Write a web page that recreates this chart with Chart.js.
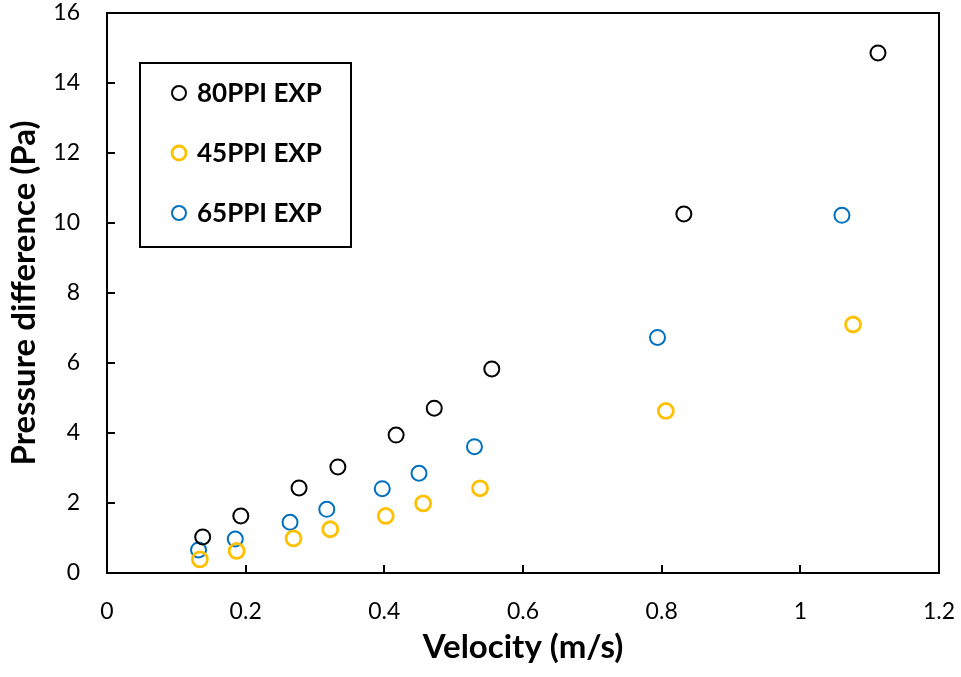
<!DOCTYPE html>
<html>
<head>
<meta charset="utf-8">
<script src="https://cdn.jsdelivr.net/npm/chart.js@4/dist/chart.umd.min.js"></script>
<style>
  html, body { margin: 0; padding: 0; background: #fff; }
  #wrap { width: 961px; height: 677px; }
</style>
</head>
<body>
<div id="wrap"><canvas id="myChart"></canvas></div>
<script>
const seriesLabels = ['80PPI EXP', '45PPI EXP', '65PPI EXP'];
const seriesColors = ['#000000', '#FFC000', '#0070C0'];

const velocity80 = [0.138, 0.193, 0.277, 0.333, 0.417, 0.472, 0.555, 0.832, 1.112];
const pressure80 = [1.03, 1.63, 2.43, 3.03, 3.94, 4.71, 5.83, 10.26, 14.86];

const velocity45 = [0.134, 0.187, 0.269, 0.322, 0.402, 0.456, 0.538, 0.806, 1.076];
const pressure45 = [0.39, 0.63, 0.99, 1.25, 1.63, 1.99, 2.42, 4.63, 7.10];

const velocity65 = [0.132, 0.185, 0.264, 0.317, 0.397, 0.450, 0.530, 0.794, 1.060];
const pressure65 = [0.66, 0.97, 1.45, 1.82, 2.41, 2.85, 3.61, 6.73, 10.22];

const xLabel = 'Velocity (m/s)';
const yLabel = 'Pressure difference (Pa)';

function toPoints(xs, ys) {
  return xs.map((x, i) => ({ x: x, y: ys[i] }));
}

const fontFamily = 'Lato, "Noto Sans", sans-serif';

// closed frame round the plot area
const framePlugin = {
  id: 'frame',
  afterDraw(chart) {
    const a = chart.chartArea;
    const c = chart.ctx;
    c.save();
    c.strokeStyle = '#000';
    c.lineWidth = 2;
    c.strokeRect(a.left, a.top, a.right - a.left, a.bottom - a.top);
    c.restore();
  }
};

// boxed legend inside the plot, top left
const boxLegend = {
  id: 'boxLegend',
  afterDraw(chart) {
    const a = chart.chartArea;
    const c = chart.ctx;
    const left = a.left + 33, top = a.top + 50, w = 211, h = 184;
    c.save();
    c.fillStyle = '#fff';
    c.fillRect(left, top, w, h);
    c.strokeStyle = '#000';
    c.lineWidth = 2;
    c.strokeRect(left, top, w, h);
    chart.data.datasets.forEach((ds, i) => {
      const cy = top + 30 + i * 60;
      c.beginPath();
      c.arc(left + 39, cy, 7, 0, Math.PI * 2);
      c.strokeStyle = ds.borderColor;
      c.lineWidth = ds.borderWidth;
      c.stroke();
      c.fillStyle = '#000';
      c.font = 'bold 26px ' + fontFamily;
      c.textBaseline = 'middle';
      c.textAlign = 'left';
      c.fillText(ds.label, left + 57, cy + 1);
    });
    c.restore();
  }
};

const ctx = document.getElementById('myChart');

new Chart(ctx, {
  type: 'scatter',
  data: {
    datasets: [
      { label: seriesLabels[0], data: toPoints(velocity80, pressure80), borderColor: seriesColors[0], backgroundColor: 'rgba(0,0,0,0)', borderWidth: 2, pointRadius: 7.5 },
      { label: seriesLabels[1], data: toPoints(velocity45, pressure45), borderColor: seriesColors[1], backgroundColor: 'rgba(0,0,0,0)', borderWidth: 2.8, pointRadius: 7.5 },
      { label: seriesLabels[2], data: toPoints(velocity65, pressure65), borderColor: seriesColors[2], backgroundColor: 'rgba(0,0,0,0)', borderWidth: 2, pointRadius: 7.5 }
    ]
  },
  options: {
    responsive: true,
    maintainAspectRatio: false,
    animation: false,
    layout: { padding: { top: 13, right: 22, left: 0, bottom: 0 } },
    plugins: {
      legend: { display: false },
      tooltip: { enabled: false }
    },
    scales: {
      x: {
        type: 'linear',
        min: 0,
        max: 1.2,
        afterFit(scale) {
          scale.height = 104;
          scale.paddingLeft = 0;
          scale.paddingRight = 0;
        },
        ticks: {
          stepSize: 0.2,
          color: '#000',
          padding: 33,
          font: { family: fontFamily, size: 23 },
          callback: (v) => String(Number(v.toFixed(1)))
        },
        grid: { drawOnChartArea: false, color: '#000', lineWidth: 2, tickLength: -8 },
        border: { color: '#000', width: 2 },
        title: { display: true, text: xLabel, color: '#000', padding: { top: 0, bottom: 10 }, font: { family: fontFamily, size: 33, weight: 'bold' } }
      },
      y: {
        min: 0,
        max: 16,
        afterFit(scale) {
          scale.width = 107;
          scale.paddingTop = 0;
          scale.paddingBottom = 0;
        },
        ticks: { stepSize: 2, color: '#000', padding: 35, font: { family: fontFamily, size: 23 } },
        grid: { drawOnChartArea: false, color: '#000', lineWidth: 2, tickLength: -8 },
        border: { color: '#000', width: 2 },
        title: { display: true, text: yLabel, color: '#000', padding: { top: 5, bottom: 0 }, font: { family: fontFamily, size: 33, weight: 'bold' } }
      }
    }
  },
  plugins: [framePlugin, boxLegend]
});
</script>
</body>
</html>
